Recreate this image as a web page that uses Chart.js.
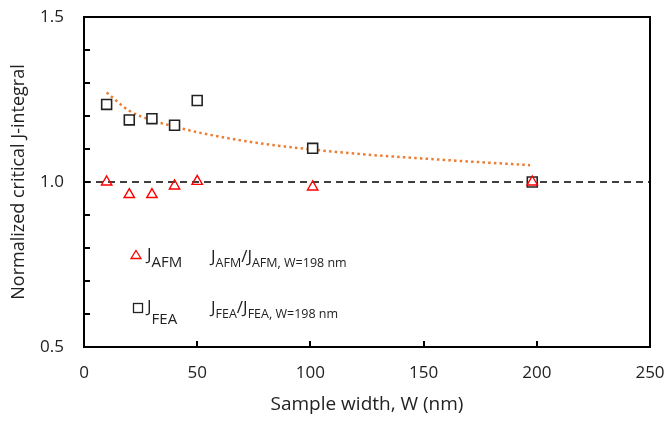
<!DOCTYPE html>
<html>
<head>
<meta charset="utf-8">
<script src="https://cdn.jsdelivr.net/npm/chart.js@4/dist/chart.umd.min.js"></script>
<style>
  html, body { margin: 0; padding: 0; background: #fff; }
  #wrap { width: 664px; height: 422px; }
</style>
</head>
<body>
<div id="wrap"><canvas id="jChart"></canvas></div>
<script>
// sample widths (nm) and normalized critical J-integral
const widthAFM = [10, 20, 30, 40, 50, 101, 198];
const jAFM = [1.0, 0.962, 0.962, 0.988, 1.002, 0.985, 1.0];
const widthFEA = [10, 20, 30, 40, 50, 101, 198];
const jFEA = [1.235, 1.188, 1.192, 1.172, 1.247, 1.102, 1.0];

// orange trend curve through the FEA points
const fitWidth = [10, 20, 30, 40, 50, 75, 100, 125, 150, 175, 197];
const fitJ = [1.271, 1.216, 1.187, 1.168, 1.151, 1.12, 1.099, 1.083, 1.071, 1.06, 1.051];

// reference level J/J(198 nm) = 1
const refWidth = [0, 250];
const refJ = [1.0, 1.0];

const xTicks = [0, 50, 100, 150, 200, 250];
const yLabels = [0.5, 1.0, 1.5];

const toPoints = (xs, ys) => xs.map((x, i) => ({ x: x, y: ys[i] }));

const FONT = "'Open Sans'";
Chart.defaults.font.family = FONT;
Chart.defaults.color = '#222';

// keep tick labels from pushing the plot area around
function noPad(s) {
    s.paddingLeft = 0;
    s.paddingRight = 0;
    s.paddingTop = 0;
    s.paddingBottom = 0;
}

// box around the plot and inward tick marks
const frameTicks = {
    id: 'frameTicks',
    afterDatasetsDraw(chart) {
        const { ctx, chartArea: a, scales } = chart;
        ctx.save();
        ctx.strokeStyle = '#000';
        ctx.lineWidth = 2;
        ctx.beginPath();
        scales.y.ticks.forEach(t => {
            const py = Math.round(scales.y.getPixelForValue(t.value));
            ctx.moveTo(a.left, py);
            ctx.lineTo(a.left + 6, py);
        });
        scales.x.ticks.forEach(t => {
            const px = Math.round(scales.x.getPixelForValue(t.value));
            ctx.moveTo(px, a.bottom);
            ctx.lineTo(px, a.bottom - 6);
        });
        ctx.stroke();
        ctx.strokeRect(a.left, a.top, a.right - a.left, a.bottom - a.top);
        ctx.restore();
    }
};

// text box legend with subscripts
function drawParts(ctx, x, y, parts) {
    parts.forEach(p => {
        ctx.font = p.size + 'px ' + FONT;
        ctx.fillText(p.t, x, y + p.dy);
        x += ctx.measureText(p.t).width;
    });
}

const textLegend = {
    id: 'textLegend',
    afterDraw(chart) {
        const ctx = chart.ctx;
        ctx.save();
        ctx.fillStyle = '#222';
        ctx.textBaseline = 'alphabetic';

        // triangle marker
        ctx.strokeStyle = '#ff0000';
        ctx.lineWidth = 1.3;
        ctx.beginPath();
        ctx.moveTo(136, 250.5);
        ctx.lineTo(141, 258.5);
        ctx.lineTo(131, 258.5);
        ctx.closePath();
        ctx.stroke();

        // square marker
        ctx.strokeStyle = '#222';
        ctx.strokeRect(133.5, 303.5, 9, 9);

        drawParts(ctx, 147, 260, [
            { t: 'J', size: 17, dy: 0 },
            { t: 'AFM', size: 15, dy: 7 }
        ]);
        drawParts(ctx, 211, 262, [
            { t: 'J', size: 17, dy: 0 },
            { t: 'AFM', size: 12.5, dy: 5 },
            { t: '/', size: 17, dy: 0 },
            { t: 'J', size: 17, dy: 0 },
            { t: 'AFM, W=198 nm', size: 12.5, dy: 5 }
        ]);
        drawParts(ctx, 147, 312, [
            { t: 'J', size: 17, dy: 0 },
            { t: 'FEA', size: 15, dy: 12 }
        ]);
        drawParts(ctx, 211, 313, [
            { t: 'J', size: 17, dy: 0 },
            { t: 'FEA', size: 12.5, dy: 5 },
            { t: '/', size: 17, dy: 0 },
            { t: 'J', size: 17, dy: 0 },
            { t: 'FEA, W=198 nm', size: 12.5, dy: 5 }
        ]);
        ctx.restore();
    }
};

new Chart(document.getElementById('jChart'), {
    type: 'scatter',
    data: {
        datasets: [
            {
                label: 'J_AFM',
                data: toPoints(widthAFM, jAFM),
                pointStyle: 'triangle',
                pointRadius: 6,
                pointBorderWidth: 1.4,
                borderColor: '#ff0000',
                backgroundColor: 'rgba(255,255,255,0)',
                order: 0
            },
            {
                label: 'J_FEA',
                data: toPoints(widthFEA, jFEA),
                pointStyle: 'rect',
                pointRadius: 7,
                pointBorderWidth: 1.6,
                borderColor: '#222',
                backgroundColor: '#fff',
                order: 1
            },
            {
                label: 'trend',
                data: toPoints(fitWidth, fitJ),
                showLine: true,
                pointRadius: 0,
                borderColor: '#ed7d31',
                borderWidth: 2.5,
                borderDash: [2.5, 3.2],
                cubicInterpolationMode: 'monotone',
                order: 2
            },
            {
                label: 'reference',
                data: toPoints(refWidth, refJ),
                showLine: true,
                pointRadius: 0,
                borderColor: '#000',
                borderWidth: 1.6,
                borderDash: [7, 5],
                order: 3
            }
        ]
    },
    options: {
        responsive: true,
        maintainAspectRatio: false,
        animation: false,
        layout: { padding: { top: 17, right: 14, left: 0, bottom: 0 } },
        plugins: {
            legend: { display: false },
            tooltip: { enabled: false }
        },
        scales: {
            x: {
                type: 'linear',
                min: 0,
                max: 250,
                afterBuildTicks: s => { s.ticks = xTicks.map(v => ({ value: v })); },
                afterFit: s => { s.height = 75; noPad(s); },
                grid: { display: false, drawTicks: false },
                border: { display: false },
                ticks: { padding: 16, font: { size: 17 }, color: '#222' },
                title: {
                    display: true,
                    text: 'Sample width, W (nm)',
                    font: { size: 19 },
                    color: '#222',
                    padding: { top: 0, bottom: 6 }
                }
            },
            y: {
                min: 0.5,
                max: 1.5,
                afterFit: s => { s.width = 84; noPad(s); },
                grid: { display: false, drawTicks: false },
                border: { display: false },
                ticks: {
                    stepSize: 0.1,
                    padding: 20,
                    font: { size: 17 },
                    color: '#222',
                    callback: v => yLabels.some(l => Math.abs(l - v) < 1e-6) ? v.toFixed(1) : ''
                },
                title: {
                    display: true,
                    text: 'Normalized critical J-integral',
                    font: { size: 18 },
                    color: '#222',
                    padding: { top: 8, bottom: 0 }
                }
            }
        }
    },
    plugins: [frameTicks, textLegend]
});
</script>
</body>
</html>
